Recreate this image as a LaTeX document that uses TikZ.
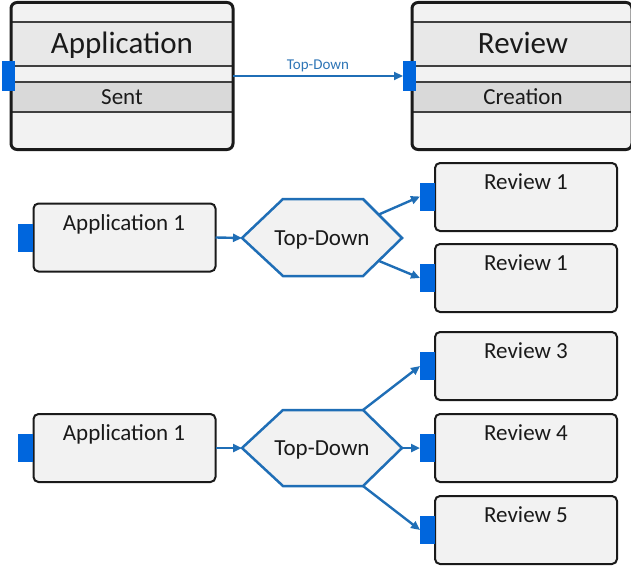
\documentclass[tikz,border=0pt]{standalone}
\usepackage{fontspec}
\setmainfont{Carlito}
\usetikzlibrary{arrows.meta,calc}
\definecolor{boxfill}{HTML}{F2F2F2}
\definecolor{bandA}{HTML}{E8E8E8}
\definecolor{bandB}{HTML}{D9D9D9}
\definecolor{portblue}{HTML}{0066DD}
\definecolor{flowblue}{HTML}{1F6EB6}
\definecolor{labelblue}{HTML}{2E75B6}
\definecolor{ink}{HTML}{1A1A1A}
\definecolor{rule}{HTML}{404040}
\tikzset{
  bigfill/.style={rectangle, rounded corners=6pt, fill=boxfill, draw=none, inner sep=0pt, outer sep=0pt},
  bigborder/.style={draw=ink, line width=3pt, rounded corners=6pt},
  rowline/.style={draw=rule, line width=1.4pt},
  smallbox/.style={rectangle, rounded corners=5pt, fill=boxfill, draw=ink, line width=2pt, minimum width=182pt, minimum height=68pt, inner sep=0pt, outer sep=0pt},
  portbox/.style={rectangle, fill=portblue, draw=none, inner sep=0pt, outer sep=0pt},
  bigtxt/.style={font=\fontsize{31}{36}\selectfont, text=ink, anchor=base, inner sep=0pt},
  midtxt/.style={font=\fontsize{23}{27}\selectfont, text=ink, anchor=base, inner sep=0pt},
  hexshape/.style={fill=boxfill, draw=flowblue, line width=2.5pt, line join=miter},
  flow/.style={draw=flowblue, line width=2.4pt, -{Triangle[length=9pt,width=8pt]}},
}
\begin{document}
\begin{tikzpicture}[x=1pt,y=-1pt]
\useasboundingbox (0,0) rectangle (631,567);

% ---------- top: Application big box
\node[bigfill, minimum width=222pt, minimum height=147pt] (appbig) at (122,76) {};
\fill[bandA] (appbig.west |- 0,22) rectangle (appbig.east |- 0,66);
\fill[bandB] (appbig.west |- 0,82) rectangle (appbig.east |- 0,112);
\foreach \yy in {22,66,82,112} \draw[rowline] (appbig.west |- 0,\yy) -- (appbig.east |- 0,\yy);
\draw[bigborder] (appbig.north west) rectangle (appbig.south east);
\node[bigtxt] (apptitle) at (122,54) {Application};
\node[midtxt] (appsent) at (122,105) {Sent};
\node[portbox, minimum width=13pt, minimum height=30pt] (appport) at (8.5,76) {};

% ---------- top: Review big box
\node[bigfill, minimum width=220pt, minimum height=147pt] (revbig) at (522,76) {};
\fill[bandA] (revbig.west |- 0,22) rectangle (revbig.east |- 0,66);
\fill[bandB] (revbig.west |- 0,82) rectangle (revbig.east |- 0,112);
\foreach \yy in {22,66,82,112} \draw[rowline] (revbig.west |- 0,\yy) -- (revbig.east |- 0,\yy);
\draw[bigborder] (revbig.north west) rectangle (revbig.south east);
\node[bigtxt] (revtitle) at (523,54) {Review};
\node[midtxt] (revcre) at (523,105) {Creation};
\node[portbox, minimum width=13pt, minimum height=30pt] (revport) at (409.5,76) {};

\draw[flow] (appbig.east) -- node[above=2pt, font=\fontsize{15}{18}\selectfont, text=labelblue, inner sep=1pt] (toplabel) {Top-Down} (revport.west);

% ---------- middle section
\node[smallbox] (app1) at (124.5,237.5) {};
\node[midtxt] (app1t) at (124,230) {Application 1};
\node[portbox, minimum width=15pt, minimum height=28pt] (app1port) at (25.5,238) {};

\coordinate (h1l) at (242,238);
\coordinate (h1tl) at (283,199);
\coordinate (h1tr) at (363,199);
\coordinate (h1r) at (402,238);
\coordinate (h1br) at (363,276);
\coordinate (h1bl) at (283,276);
\draw[hexshape] (h1l) -- (h1tl) -- (h1tr) -- (h1r) -- (h1br) -- (h1bl) -- cycle;
\node[midtxt] (hex1) at (322,245) {Top-Down};

\node[smallbox] (r1a) at (526,197) {};
\node[midtxt] (r1at) at (526,189) {Review 1};
\node[portbox, minimum width=15pt, minimum height=28pt] (r1aport) at (427.5,196.5) {};
\node[smallbox] (r1b) at (526,278) {};
\node[midtxt] (r1bt) at (526,270) {Review 1};
\node[portbox, minimum width=15pt, minimum height=28pt] (r1bport) at (427.5,278) {};

\draw[flow] (app1.east) -- (h1l);
\draw[flow] ($(h1tr)!0.4!(h1r)$) -- (r1aport.west);
\draw[flow] ($(h1br)!0.4!(h1r)$) -- (r1bport.west);

% ---------- bottom section
\node[smallbox] (app2) at (124.5,448) {};
\node[midtxt] (app2t) at (124,440) {Application 1};
\node[portbox, minimum width=15pt, minimum height=28pt] (app2port) at (25.5,448) {};

\coordinate (h2l) at (242,448);
\coordinate (h2tl) at (283,410);
\coordinate (h2tr) at (363,410);
\coordinate (h2r) at (402,448);
\coordinate (h2br) at (363,486);
\coordinate (h2bl) at (283,486);
\draw[hexshape] (h2l) -- (h2tl) -- (h2tr) -- (h2r) -- (h2br) -- (h2bl) -- cycle;
\node[midtxt] (hex2) at (322,455) {Top-Down};

\node[smallbox] (r3) at (526,366) {};
\node[midtxt] (r3t) at (526,358) {Review 3};
\node[portbox, minimum width=15pt, minimum height=28pt] (r3port) at (427.5,366) {};
\node[smallbox] (r4) at (526,448) {};
\node[midtxt] (r4t) at (526,440) {Review 4};
\node[portbox, minimum width=15pt, minimum height=28pt] (r4port) at (427.5,448) {};
\node[smallbox] (r5) at (526,530) {};
\node[midtxt] (r5t) at (526,522) {Review 5};
\node[portbox, minimum width=15pt, minimum height=28pt] (r5port) at (427.5,530) {};

\draw[flow] (app2.east) -- (h2l);
\draw[flow] (h2tr) -- (r3port.west);
\draw[flow] (h2r) -- (r4port.west);
\draw[flow] (h2br) -- (r5port.west);
\end{tikzpicture}
\end{document}
